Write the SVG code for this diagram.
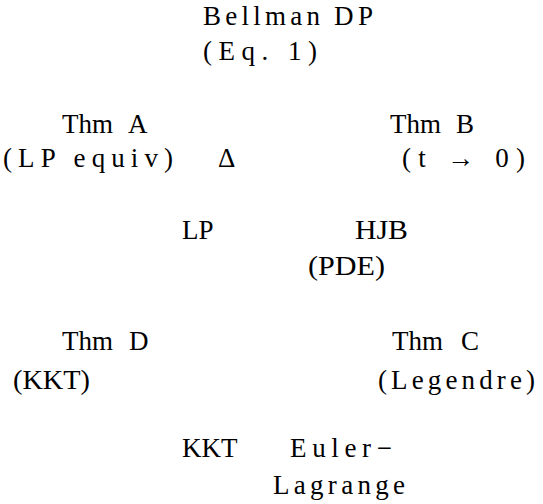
<svg xmlns="http://www.w3.org/2000/svg" width="543" height="504" viewBox="0 0 543 504" font-family="'Liberation Serif', 'DejaVu Serif', serif" font-size="27">
  <rect width="543" height="504" fill="#fff"/>
  <g id="connectors"/>
  <g id="bellman">
    <text x="203" y="25" textLength="117" lengthAdjust="spacing">Bellman</text>
    <text x="334" y="25" textLength="39" lengthAdjust="spacing">DP</text>
    <text x="203" y="60" textLength="114" lengthAdjust="spacing">(Eq. 1)</text>
  </g>
  <g id="thm-a">
    <text x="62" y="133">Thm</text>
    <text x="128" y="133">A</text>
    <text x="3" y="167" textLength="170" lengthAdjust="spacing">(LP equiv)</text>
  </g>
  <g id="delta">
    <text x="218" y="167">Δ</text>
  </g>
  <g id="thm-b">
    <text x="390" y="133">Thm</text>
    <text x="456" y="133">B</text>
    <text x="402" y="167" textLength="123" lengthAdjust="spacing">(t → 0)</text>
  </g>
  <g id="lp">
    <text x="182" y="239">LP</text>
  </g>
  <g id="hjb">
    <text x="355" y="239" textLength="53" lengthAdjust="spacingAndGlyphs">HJB</text>
    <text x="308" y="275" textLength="77" lengthAdjust="spacingAndGlyphs">(PDE)</text>
  </g>
  <g id="thm-d">
    <text x="62" y="350">Thm</text>
    <text x="129" y="350">D</text>
    <text x="13" y="389" textLength="77" lengthAdjust="spacingAndGlyphs">(KKT)</text>
  </g>
  <g id="thm-c">
    <text x="392" y="350">Thm</text>
    <text x="461" y="350">C</text>
    <text x="378" y="389" textLength="157" lengthAdjust="spacing">(Legendre)</text>
  </g>
  <g id="kkt">
    <text x="182" y="457">KKT</text>
  </g>
  <g id="euler-lagrange">
    <text x="290" y="457" textLength="102" lengthAdjust="spacing">Euler−</text>
    <text x="273" y="494" textLength="132" lengthAdjust="spacing">Lagrange</text>
  </g>
</svg>
